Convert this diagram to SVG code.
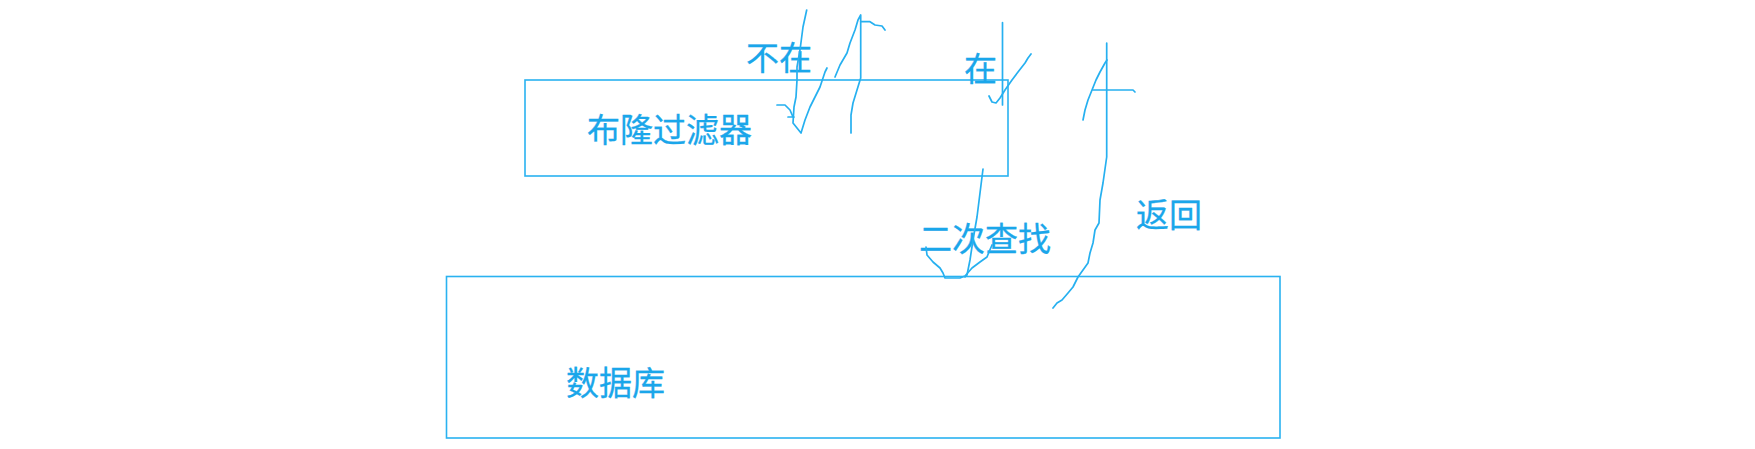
<svg xmlns="http://www.w3.org/2000/svg" width="1755" height="449" viewBox="0 0 1755 449">
<style>
.box{fill:none;stroke:#2ab2f0;stroke-width:1.6}
.t{font-family:"Noto Sans CJK SC","Microsoft YaHei",sans-serif;fill:#1aa6ea;stroke:#1aa6ea;stroke-width:0.3;font-size:33px}
.ink{fill:none;stroke:#26b0f0;stroke-width:1.7;stroke-linecap:round;stroke-linejoin:round}
</style>
<rect width="1755" height="449" fill="#ffffff"/>
<g id="bloom-filter">
<rect class="box" x="525" y="80" width="483" height="96"/>
<text class="t" x="587" y="142">布隆过滤器</text>
</g>
<g id="database">
<rect class="box" x="446.5" y="276.5" width="833.5" height="161.5"/>
<text class="t" x="566" y="395">数据库</text>
</g>
<g id="labels">
<text class="t" x="746" y="70">不在</text>
<text class="t" x="964" y="81">在</text>
<text class="t" x="919" y="251">二次查找</text>
<text class="t" x="1136" y="227">返回</text>
</g>
<g id="connectors">
<path class="ink" d="M806.7,10 L803,27 L800,50 L797,67 L797,80 L796,97 L794,107 L793,123 L797,128 L801,133 L805,120 L810,107 L815,97 L820,87 L823,78 L825,72 L827,68"/>
<path class="ink" d="M777,105 L785,105 L790,110 L793,117 M788,117 L794,117"/>
<path class="ink" d="M835,77 L840,65 L847,53 L850,43 L855,30 L858,20 L860.7,15 L860.7,78 L857,90 L853,103 L851,115 L851,133"/>
<path class="ink" d="M860.7,21.7 L870,21.7 L875,25 L882,26 L885,30"/>
<path class="ink" d="M1002.5,22.7 L1002.5,105"/>
<path class="ink" d="M989,96 L992,102 L996,103 L1000,98 L1005,90 L1012,80 L1018,72 L1025,63 L1028,58 L1031,54"/>
<path class="ink" d="M983,169 L980,193 L977,217 L973,240 L970,260 L967,275 L965,277"/>
<path class="ink" d="M926,247 L927,255 L933,262 L940,268 L943,273 L945,278 L960,278 L965,276 L972,268 L980,262 L987,257 L989,252 L992,245"/>
<path class="ink" d="M1106.7,43 L1106.7,157 L1103,183 L1100,200 L1099,223 L1095,230 L1093,243 L1090,253 L1088,263 L1083,270 L1078,277 L1073,287 L1068,293 L1062,300 L1057,303 L1053,308"/>
<path class="ink" d="M1083,120 L1085,110 L1088,100 L1092,90 L1096,80 L1100,72 L1105,63 L1107,60"/>
<path class="ink" d="M1093,90 L1133,90 L1135,92"/>
</g>
</svg>
